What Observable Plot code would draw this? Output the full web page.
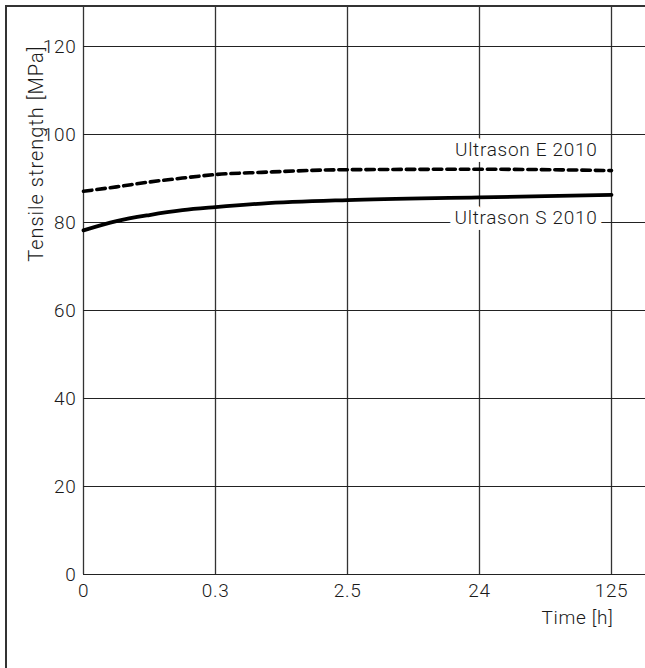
<!DOCTYPE html>
<html>
<head>
<meta charset="utf-8">
<script src="https://cdn.jsdelivr.net/npm/d3@7"></script>
<script src="https://cdn.jsdelivr.net/npm/@observablehq/plot@0.6"></script>
<style>
  html, body { margin: 0; padding: 0; background: #fff; }
  #wrap { position: relative; width: 645px; height: 668px; overflow: hidden; }
  #frame { position: absolute; left: 5px; top: 5px; width: 700px; height: 700px;
           border-left: 2px solid #333; border-top: 2px solid #333; pointer-events: none; }
  svg { display: block; }
  svg text { letter-spacing: 0.7px; }
  svg text[transform*="rotate(-90)"] { letter-spacing: 1px; }
</style>
</head>
<body>
<div id="wrap"><div id="chart"></div><div id="frame"></div></div>
<script>
// Tick labels of the time axis (evenly spaced on the chart)
const timeLabels = ["0", "0.3", "2.5", "24", "125"];
const timeTickPos = [0, 1, 2, 3, 4];
const yTicks = [0, 20, 40, 60, 80, 100, 120];

// Sample positions along the time axis, in tick-index units
const samplePos = [0, 0.25, 0.5, 0.75, 1, 1.35, 2, 3, 4];
// Tensile strength [MPa]
const ultrasonS = [78.2, 80.3, 81.7, 82.8, 83.5, 84.3, 85.1, 85.7, 86.3];
const ultrasonE = [87.1, 88.1, 89.2, 90.1, 90.9, 91.4, 92.0, 92.1, 91.8];

const seriesNames = ["Ultrason E 2010", "Ultrason S 2010"];
const yTitle = "Tensile strength [MPa]";
const xTitle = "Time [h]";

const dataS = samplePos.map((t, i) => ({t, v: ultrasonS[i]}));
const dataE = samplePos.map((t, i) => ({t, v: ultrasonE[i]}));
const lastE = [{t: samplePos[samplePos.length - 1], v: ultrasonE[ultrasonE.length - 1], label: seriesNames[0]}];
const lastS = [{t: samplePos[samplePos.length - 1], v: ultrasonS[ultrasonS.length - 1], label: seriesNames[1]}];

const W = 645, H = 668, mL = 83, mR = 0, mT = 6, mB = 94;
const pxPerTick = 132, pxPerUnit = 4.4;
const font = "Roboto, sans-serif";
const ink = "#1a1a1a";
const fs = 19;

const chart = Plot.plot({
  width: W, height: H,
  marginLeft: mL, marginRight: mR, marginTop: mT, marginBottom: mB,
  style: {fontFamily: font, fontSize: fs + "px", fontWeight: 300, color: ink, background: "#fff"},
  x: {domain: [0, (W - mL - mR) / pxPerTick]},
  y: {domain: [0, (H - mT - mB) / pxPerUnit]},
  marks: [
    Plot.gridX(timeTickPos, {stroke: "#333", strokeOpacity: 1, strokeWidth: 1.3}),
    Plot.gridY(yTicks, {stroke: "#222", strokeOpacity: 1, strokeWidth: 1.1}),
    Plot.axisX(timeTickPos, {tickSize: 0, tickPadding: 9, fontSize: fs, tickFormat: i => timeLabels[i], label: null}),
    Plot.axisY(yTicks, {tickSize: 0, tickPadding: 7, fontSize: fs, label: null}),
    Plot.line(dataE, {x: "t", y: "v", curve: "monotone-x", stroke: "#000", strokeWidth: 3.6, strokeDasharray: "8.5,5"}),
    Plot.line(dataS, {x: "t", y: "v", curve: "monotone-x", stroke: "#000", strokeWidth: 3.8}),
    Plot.text(lastE, {x: "t", y: "v", text: "label", textAnchor: "end", dx: -14, dy: -21, fontSize: fs,
                      fill: ink, stroke: "white", strokeWidth: 12, strokeLinejoin: "round"}),
    Plot.text(lastS, {x: "t", y: "v", text: "label", textAnchor: "end", dx: -14, dy: 23, fontSize: fs,
                      fill: ink, stroke: "white", strokeWidth: 12, strokeLinejoin: "round"}),
    Plot.text([yTitle], {frameAnchor: "top-left", rotate: -90, textAnchor: "end", dx: -55, dy: 39, fontSize: 20, fill: ink}),
    Plot.text([xTitle], {frameAnchor: "bottom-right", textAnchor: "end", dx: -32, dy: 49, fontSize: fs, fill: ink})
  ]
});
document.getElementById("chart").appendChild(chart);
</script>
</body>
</html>
